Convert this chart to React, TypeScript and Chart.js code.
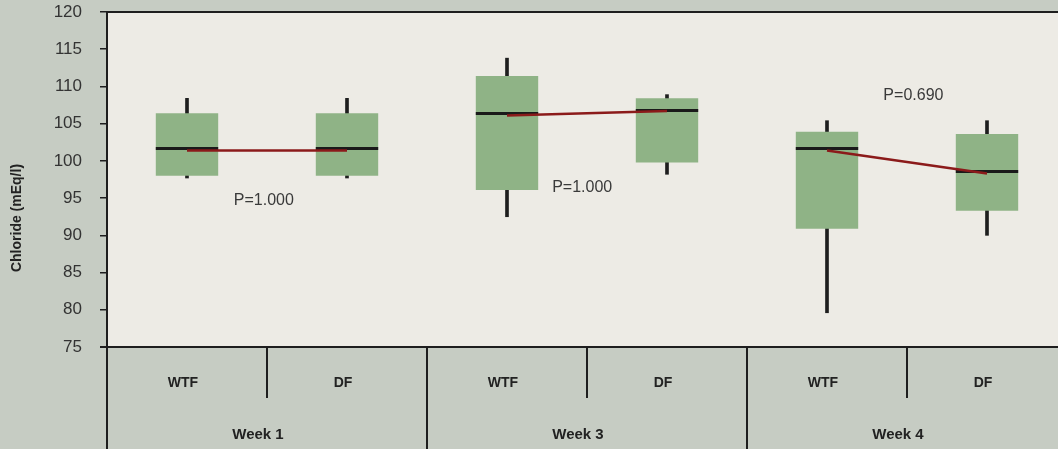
import React, { useEffect, useRef } from 'react';
import { Chart, registerables } from 'chart.js';

Chart.register(...registerables);

// ---- data ----
const categories = ['WTF', 'DF', 'WTF', 'DF', 'WTF', 'DF'];
const weeks = ['Week 1', 'Week 3', 'Week 4'];
const whiskerLow = [97.7, 97.7, 92.5, 98.2, 79.6, 90.0];
const boxLow = [98.0, 98.0, 96.1, 99.8, 90.9, 93.3];
const medians = [101.7, 101.7, 106.4, 106.9, 101.7, 98.6];
const boxHigh = [106.4, 106.4, 111.4, 108.4, 103.9, 103.6];
const whiskerHigh = [108.4, 108.4, 113.8, 108.9, 105.4, 105.4];
const means = [101.4, 101.4, 106.1, 106.7, 101.4, 98.3];
const pLabels = ['P=1.000', 'P=1.000', 'P=0.690'];
const yMin = 75;
const yMax = 120;
const yStep = 5;

const FONT = "'Liberation Sans', Arial, sans-serif";

// label anchor placement (category-index, value)
const P_POS: [number, number][] = [
  [0.48, 94.7],
  [2.47, 96.4],
  [4.54, 108.8],
];

const plotBgPlugin = {
  id: 'plotBg',
  beforeDraw(chart: any) {
    const { ctx, chartArea: a } = chart;
    ctx.save();
    ctx.fillStyle = '#edebe5';
    ctx.fillRect(a.left, a.top, a.right - a.left, a.bottom - a.top);
    ctx.restore();
  },
};

const medianPlugin = {
  id: 'medians',
  afterDatasetDraw(chart: any, args: any) {
    if (args.index !== 1) return;
    const { ctx } = chart;
    const y = chart.scales.y;
    const meta = chart.getDatasetMeta(1);
    ctx.save();
    ctx.strokeStyle = '#1a1a1a';
    ctx.lineWidth = 3;
    meta.data.forEach((el: any, i: number) => {
      const py = Math.round(y.getPixelForValue(medians[i])) + 0.5;
      ctx.beginPath();
      ctx.moveTo(el.x - el.width / 2, py);
      ctx.lineTo(el.x + el.width / 2, py);
      ctx.stroke();
    });
    ctx.restore();
  },
};

const annotPlugin = {
  id: 'annot',
  afterDraw(chart: any) {
    const { ctx, chartArea: a } = chart;
    const xs = chart.scales.x;
    const ys = chart.scales.y;
    ctx.save();
    // p-values
    ctx.fillStyle = '#3a3a3a';
    ctx.font = `16px ${FONT}`;
    ctx.textAlign = 'center';
    ctx.textBaseline = 'middle';
    pLabels.forEach((t, i) => {
      ctx.fillText(t, xs.getPixelForValue(P_POS[i][0]), ys.getPixelForValue(P_POS[i][1]));
    });

    // frame lines
    ctx.strokeStyle = '#1e1e1e';
    ctx.lineWidth = 2;
    ctx.beginPath();
    ctx.moveTo(a.left, a.top);
    ctx.lineTo(a.right, a.top);
    ctx.moveTo(a.left - 7, a.bottom);
    ctx.lineTo(a.right, a.bottom);
    ctx.stroke();

    // category table
    const c0 = xs.getPixelForValue(0);
    const c1 = xs.getPixelForValue(1);
    const cw = c1 - c0;
    const H = chart.height;
    ctx.lineWidth = 2;
    for (let i = 0; i <= categories.length; i++) {
      const x = Math.round(a.left + i * cw);
      ctx.beginPath();
      ctx.moveTo(x, a.bottom);
      ctx.lineTo(x, i % 2 === 0 ? H : a.bottom + 51);
      ctx.stroke();
    }
    ctx.fillStyle = '#222';
    ctx.font = `bold 14px ${FONT}`;
    categories.forEach((c, i) => {
      ctx.fillText(c, xs.getPixelForValue(i) - 4, a.bottom + 36);
    });
    ctx.font = `bold 15px ${FONT}`;
    weeks.forEach((w, i) => {
      const cx = (xs.getPixelForValue(2 * i) + xs.getPixelForValue(2 * i + 1)) / 2;
      ctx.fillText(w, cx - 9, a.bottom + 88);
    });

    // y title
    ctx.save();
    ctx.translate(17, 218);
    ctx.rotate(-Math.PI / 2);
    ctx.font = `bold 14px ${FONT}`;
    ctx.fillStyle = '#222';
    ctx.fillText('Chloride (mEq/l)', 0, 0);
    ctx.restore();

    ctx.restore();
  },
};

export default function App() {
  const ref = useRef<HTMLCanvasElement | null>(null);

  useEffect(() => {
    if (!ref.current) return;
    Chart.defaults.font.family = FONT;
    const chart = new Chart(ref.current, {
      type: 'bar',
      data: {
        labels: categories,
        datasets: [
          {
            type: 'bar',
            data: whiskerLow.map((v, i) => [v, whiskerHigh[i]]) as any,
            backgroundColor: '#1e1e1e',
            barThickness: 3,
            grouped: false,
            order: 3,
          } as any,
          {
            type: 'bar',
            data: boxLow.map((v, i) => [v, boxHigh[i]]) as any,
            backgroundColor: '#8fb386',
            barPercentage: 0.39,
            categoryPercentage: 1,
            grouped: false,
            borderWidth: 0,
            order: 2,
          } as any,
          {
            type: 'line',
            data: means,
            borderColor: '#8b1a1a',
            borderWidth: 2.5,
            pointRadius: 0,
            order: 1,
            segment: {
              borderColor: (ctx: any) => (ctx.p0DataIndex % 2 === 1 ? 'rgba(0,0,0,0)' : '#8b1a1a'),
            },
          } as any,
        ],
      },
      options: {
        responsive: false,
        animation: false,
        layout: { padding: { left: 0, top: 12, right: 8, bottom: 102 } },
        plugins: { legend: { display: false }, tooltip: { enabled: false } },
        scales: {
          x: { display: false, offset: true },
          y: {
            min: yMin,
            max: yMax,
            ticks: {
              stepSize: yStep,
              color: '#333',
              font: { size: 17, family: FONT },
              padding: 18,
            },
            grid: {
              drawOnChartArea: false,
              drawTicks: true,
              tickLength: 7,
              color: '#1e1e1e',
              lineWidth: 1.5,
            },
            border: { display: true, color: '#1e1e1e', width: 2 },
            afterFit: (s: any) => {
              s.width = 107;
              s.paddingTop = 0;
              s.paddingBottom = 0;
            },
          },
        },
      },
      plugins: [plotBgPlugin, medianPlugin, annotPlugin],
    });
    return () => chart.destroy();
  }, []);

  return (
    <div
      style={{
        position: 'fixed',
        left: 0,
        top: 0,
        width: 1058,
        height: 449,
        overflow: 'hidden',
        background: '#c6ccc3',
      }}
    >
      <canvas ref={ref} width={1075} height={449} style={{ display: 'block', width: 1075, height: 449 }} />
    </div>
  );
}
